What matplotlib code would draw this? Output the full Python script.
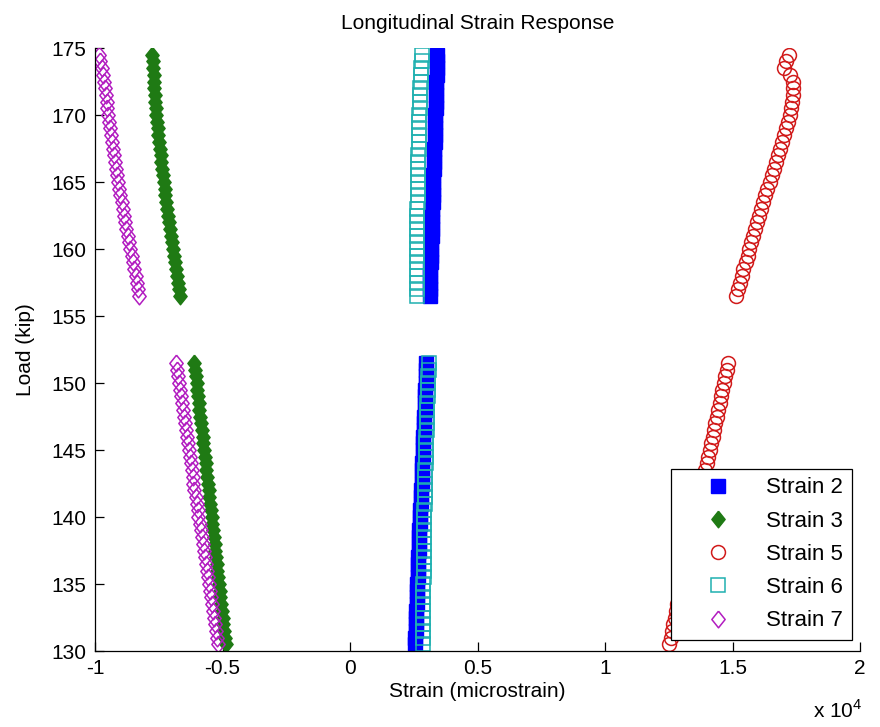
import matplotlib
matplotlib.use('Agg')
import matplotlib.pyplot as plt

# load steps (kip), two loading runs
load_lower = [130.5, 131.0, 131.5, 132.0, 132.5, 133.0, 133.5, 134.0, 134.5, 135.0,
              135.5, 136.0, 136.5, 137.0, 137.5, 138.0, 138.5, 139.0, 139.5, 140.0,
              140.5, 141.0, 141.5, 142.0, 142.5, 143.0, 143.5, 144.0, 144.5, 145.0,
              145.5, 146.0, 146.5, 147.0, 147.5, 148.0, 148.5, 149.0, 149.5, 150.0,
              150.5, 151.0, 151.5]
load_upper = [156.5, 157.0, 157.5, 158.0, 158.5, 159.0, 159.5, 160.0, 160.5, 161.0,
              161.5, 162.0, 162.5, 163.0, 163.5, 164.0, 164.5, 165.0, 165.5, 166.0,
              166.5, 167.0, 167.5, 168.0, 168.5, 169.0, 169.5, 170.0, 170.5, 171.0,
              171.5, 172.0, 172.5, 173.0, 173.5, 174.0, 174.5]

# strains (microstrain)
strain2_lower = [2550, 2560, 2570, 2580, 2590, 2600, 2610, 2620, 2630, 2640,
                 2650, 2660, 2670, 2680, 2690, 2700, 2710, 2720, 2735, 2745,
                 2755, 2770, 2780, 2790, 2805, 2815, 2825, 2840, 2850, 2860,
                 2870, 2880, 2895, 2905, 2915, 2925, 2935, 2945, 2955, 2965,
                 2975, 2985, 2995]
strain2_upper = [3120, 3130, 3135, 3145, 3150, 3160, 3170, 3180, 3185, 3195,
                 3200, 3210, 3220, 3230, 3235, 3245, 3255, 3265, 3270, 3280,
                 3290, 3300, 3305, 3315, 3320, 3330, 3340, 3350, 3355, 3365,
                 3375, 3380, 3390, 3395, 3405, 3410, 3420]

strain3_lower = [-4880, -4910, -4940, -4970, -5000, -5030, -5060, -5090, -5115, -5145,
                 -5175, -5200, -5230, -5255, -5285, -5315, -5340, -5370, -5400, -5430,
                 -5455, -5485, -5515, -5545, -5575, -5605, -5635, -5665, -5695, -5725,
                 -5755, -5785, -5815, -5845, -5875, -5905, -5935, -5960, -5990, -6020,
                 -6050, -6080, -6110]
strain3_upper = [-6680, -6720, -6760, -6800, -6840, -6880, -6920, -6960, -6995, -7030,
                 -7065, -7100, -7135, -7170, -7205, -7240, -7275, -7310, -7340, -7370,
                 -7400, -7430, -7460, -7490, -7520, -7550, -7575, -7600, -7620, -7640,
                 -7655, -7670, -7685, -7700, -7715, -7730, -7750]

strain5_lower = [12520, 12570, 12620, 12680, 12730, 12790, 12840, 12900, 12950, 13010,
                 13060, 13120, 13170, 13230, 13280, 13340, 13390, 13450, 13500, 13560,
                 13610, 13670, 13720, 13780, 13830, 13890, 13940, 14000, 14050, 14110,
                 14160, 14220, 14270, 14330, 14380, 14440, 14490, 14550, 14600, 14660,
                 14710, 14770, 14820]
strain5_upper = [15130, 15200, 15280, 15360, 15430, 15510, 15590, 15660, 15740, 15820,
                 15890, 15970, 16050, 16120, 16200, 16280, 16370, 16450, 16540, 16620,
                 16700, 16780, 16860, 16930, 17010, 17090, 17170, 17250, 17310, 17350,
                 17370, 17380, 17360, 17240, 17020, 17100, 17220]

strain6_lower = [2860, 2860, 2865, 2865, 2870, 2870, 2875, 2875, 2880, 2880,
                 2885, 2890, 2890, 2895, 2895, 2900, 2905, 2905, 2910, 2915,
                 2920, 2925, 2930, 2935, 2940, 2945, 2950, 2960, 2965, 2975,
                 2980, 2990, 3000, 3005, 3015, 3025, 3035, 3045, 3055, 3065,
                 3075, 3085, 3100]
strain6_upper = [2620, 2620, 2620, 2625, 2625, 2625, 2630, 2630, 2635, 2635,
                 2640, 2640, 2645, 2645, 2650, 2650, 2655, 2660, 2665, 2670,
                 2675, 2680, 2685, 2690, 2700, 2705, 2715, 2720, 2730, 2740,
                 2750, 2760, 2770, 2780, 2795, 2810, 2830]

strain7_lower = [-5180, -5220, -5265, -5300, -5345, -5390, -5430, -5470, -5510, -5545,
                 -5580, -5620, -5660, -5700, -5745, -5785, -5820, -5860, -5900, -5945,
                 -5980, -6020, -6060, -6100, -6140, -6175, -6215, -6255, -6290, -6330,
                 -6365, -6405, -6440, -6480, -6520, -6555, -6590, -6630, -6665, -6700,
                 -6740, -6775, -6815]
strain7_upper = [-8260, -8310, -8360, -8410, -8465, -8515, -8565, -8620, -8670, -8720,
                 -8770, -8820, -8870, -8915, -8960, -9005, -9050, -9095, -9135, -9175,
                 -9215, -9255, -9295, -9335, -9370, -9410, -9445, -9480, -9515, -9550,
                 -9585, -9620, -9655, -9690, -9740, -9790, -9850]

x_ticks = [-10000, -5000, 0, 5000, 10000, 15000, 20000]
x_tick_labels = ['-1', '-0.5', '0', '0.5', '1', '1.5', '2']
y_ticks = [130, 135, 140, 145, 150, 155, 160, 165, 170, 175]

diamond = [(0, 1), (0.8, 0), (0, -1), (-0.8, 0), (0, 1)]


def main():
    plt.rcParams['font.family'] = ['Liberation Sans', 'DejaVu Sans']
    plt.rcParams['mathtext.fontset'] = 'custom'
    plt.rcParams['mathtext.rm'] = 'Liberation Sans'

    fig = plt.figure(figsize=(8.8, 7.27), dpi=100)
    ax = fig.add_axes([0.108, 0.1045, 0.8693, 0.8294])

    loads = load_lower + load_upper
    ax.plot(strain2_lower + strain2_upper, loads, ls='none', marker='s', ms=10,
            mfc='#0000ff', mec='#0000ff', mew=1.0, label='Strain 2')
    ax.plot(strain3_lower + strain3_upper, loads, ls='none', marker=diamond, ms=12,
            mfc='#1f7a14', mec='#1f7a14', mew=1.0, label='Strain 3')
    ax.plot(strain5_lower + strain5_upper, loads, ls='none', marker='o', ms=10,
            mfc='none', mec='#d11a1a', mew=1.1, label='Strain 5')
    ax.plot(strain6_lower + strain6_upper, loads, ls='none', marker='s', ms=10,
            mfc='none', mec='#1fb0b0', mew=1.1, label='Strain 6')
    ax.plot(strain7_lower + strain7_upper, loads, ls='none', marker=diamond, ms=12,
            mfc='none', mec='#b21cc0', mew=1.1, label='Strain 7')

    ax.set_xlim(-10000, 20000)
    ax.set_ylim(130, 175)
    ax.set_xticks(x_ticks)
    ax.set_xticklabels(x_tick_labels)
    ax.set_yticks(y_ticks)

    ax.spines['top'].set_visible(False)
    ax.spines['right'].set_visible(False)
    for s in ['left', 'bottom']:
        ax.spines[s].set_linewidth(0.9)
    ax.tick_params(direction='in', length=6.5, width=0.9, labelsize=15, top=False, right=False)
    ax.tick_params(axis='x', pad=5.5)
    ax.tick_params(axis='y', pad=6)

    ax.set_title('Longitudinal Strain Response', fontsize=15, pad=14)
    ax.set_xlabel('Strain (microstrain)', fontsize=15, labelpad=3)
    ax.set_ylabel('Load (kip)', fontsize=15, labelpad=12)
    ax.text(1.003, -0.098, 'x 10$^{4}$', transform=ax.transAxes, ha='right', va='center',
            fontsize=15)

    leg = ax.legend(loc='lower right', bbox_to_anchor=(0.9895, 0.018), borderaxespad=0,
                    fontsize=16, numpoints=1, fancybox=False, framealpha=1,
                    edgecolor='black', borderpad=0.4, labelspacing=0.55,
                    handlelength=3.5, handletextpad=0.4)
    leg.get_frame().set_linewidth(0.9)

    plt.savefig('out.png', dpi=100)
    plt.close()


if __name__ == '__main__':
    main()
